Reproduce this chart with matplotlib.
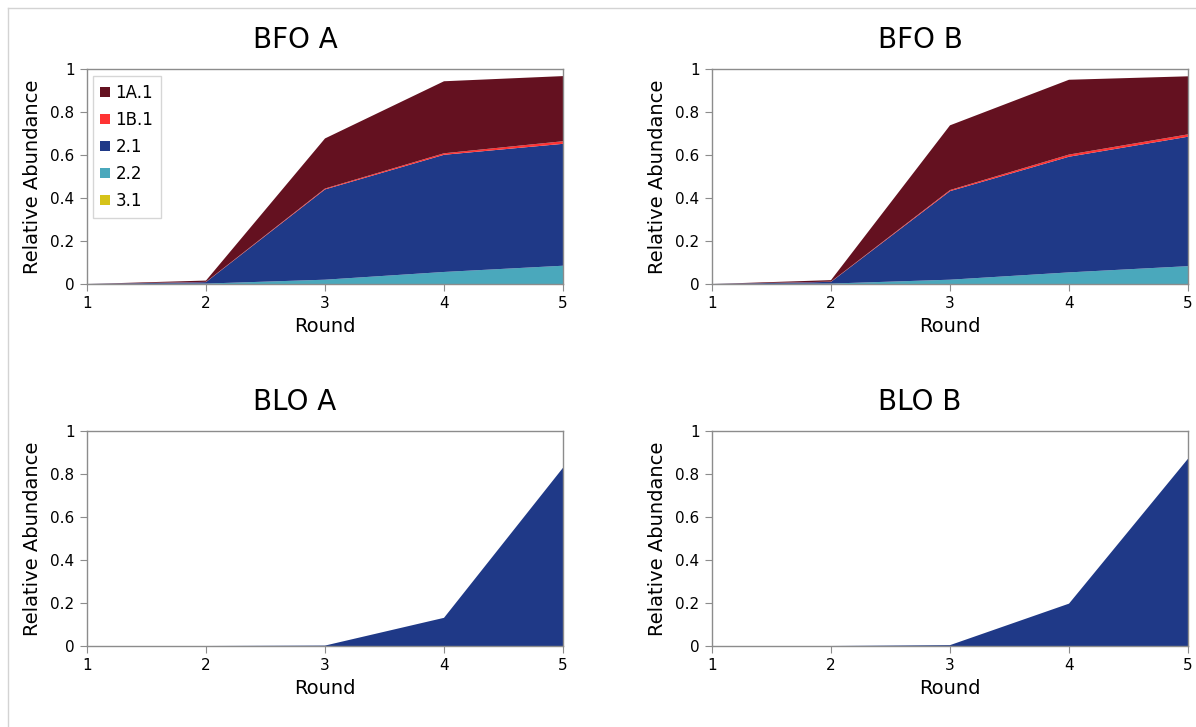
import matplotlib
matplotlib.use("Agg")
from matplotlib import pyplot as plt
from matplotlib.lines import Line2D
from matplotlib.patches import Patch

rounds = [1, 2, 3, 4, 5]
series_names = ["1A.1", "1B.1", "2.1", "2.2", "3.1"]
colors = {"1A.1": "#641120", "1B.1": "#ff3333", "2.1": "#1f3987",
          "2.2": "#4aa8bc", "3.1": "#d6c31a"}

# relative abundance per round for each panel
bfo_a_1a1 = [0, 0.006, 0.233, 0.335, 0.303]
bfo_a_1b1 = [0, 0.001, 0.004, 0.007, 0.012]
bfo_a_21 = [0, 0.007, 0.420, 0.545, 0.567]
bfo_a_22 = [0, 0.002, 0.020, 0.056, 0.085]
bfo_a_31 = [0, 0, 0, 0, 0]

bfo_b_1a1 = [0, 0.007, 0.301, 0.348, 0.270]
bfo_b_1b1 = [0, 0.001, 0.005, 0.010, 0.011]
bfo_b_21 = [0, 0.008, 0.412, 0.538, 0.602]
bfo_b_22 = [0, 0.002, 0.020, 0.054, 0.083]
bfo_b_31 = [0, 0, 0, 0, 0]

blo_a_1a1 = [0, 0, 0, 0, 0]
blo_a_1b1 = [0, 0, 0, 0, 0]
blo_a_21 = [0, 0, 0.002, 0.131, 0.829]
blo_a_22 = [0, 0, 0, 0, 0]
blo_a_31 = [0, 0, 0, 0, 0]

blo_b_1a1 = [0, 0, 0, 0, 0]
blo_b_1b1 = [0, 0, 0, 0, 0]
blo_b_21 = [0, 0, 0.004, 0.197, 0.871]
blo_b_22 = [0, 0, 0, 0, 0]
blo_b_31 = [0, 0, 0, 0, 0]

panels = [
    ("BFO A", [bfo_a_1a1, bfo_a_1b1, bfo_a_21, bfo_a_22, bfo_a_31]),
    ("BFO B", [bfo_b_1a1, bfo_b_1b1, bfo_b_21, bfo_b_22, bfo_b_31]),
    ("BLO A", [blo_a_1a1, blo_a_1b1, blo_a_21, blo_a_22, blo_a_31]),
    ("BLO B", [blo_b_1a1, blo_b_1b1, blo_b_21, blo_b_22, blo_b_31]),
]

W, H = 1196, 727
fig = plt.figure(figsize=(W / 100, H / 100), dpi=100)

# thin grey frame along top and left
fig.add_artist(Line2D([8 / W, 8 / W], [0, 1 - 8 / H], color="#d3d3d3", lw=1))
fig.add_artist(Line2D([8 / W, 1], [1 - 8 / H, 1 - 8 / H], color="#d3d3d3", lw=1))

boxes = [(87, 69), (712, 69), (87, 431), (712, 431)]
for (title, vals), (px, py) in zip(panels, boxes):
    ax = fig.add_axes([px / W, 1 - (py + 215) / H, 476 / W, 215 / H])
    # stack from the bottom: 3.1, 2.2, 2.1, 1B.1, 1A.1
    order = [4, 3, 2, 1, 0]
    ax.stackplot(rounds, [vals[i] for i in order],
                 colors=[colors[series_names[i]] for i in order], lw=0)
    ax.set_xlim(1, 5)
    ax.set_ylim(0, 1)
    ax.set_xticks(rounds)
    ax.set_xticklabels([str(r) for r in rounds])
    ax.set_yticks([0, 0.2, 0.4, 0.6, 0.8, 1])
    ax.set_yticklabels(["0", "0.2", "0.4", "0.6", "0.8", "1"])
    for s in ax.spines.values():
        s.set_color("#8c8c8c")
        s.set_linewidth(1)
    ax.tick_params(direction="out", length=5, color="#8c8c8c", labelsize=11, pad=4)
    # title is centred over the whole chart block, not just the plot box
    ax.set_title(title, fontsize=20, pad=15, x=0.437)
    ax.set_xlabel("Round", fontsize=14, labelpad=4)
    ax.set_ylabel("Relative Abundance", fontsize=14, labelpad=6)
    if title == "BFO A":
        handles = [Patch(facecolor=colors[n], edgecolor="none") for n in series_names]
        leg = ax.legend(handles, series_names, loc="upper left", fontsize=12,
                        frameon=True, fancybox=False, handlelength=0.55,
                        handleheight=0.55, handletextpad=0.35, labelspacing=0.55,
                        borderpad=0.45, borderaxespad=0,
                        bbox_to_anchor=(6 / 476, 1 - 7 / 215))
        leg.get_frame().set_edgecolor("#cccccc")
        leg.get_frame().set_linewidth(1)

fig.savefig("out.png", dpi=100)
